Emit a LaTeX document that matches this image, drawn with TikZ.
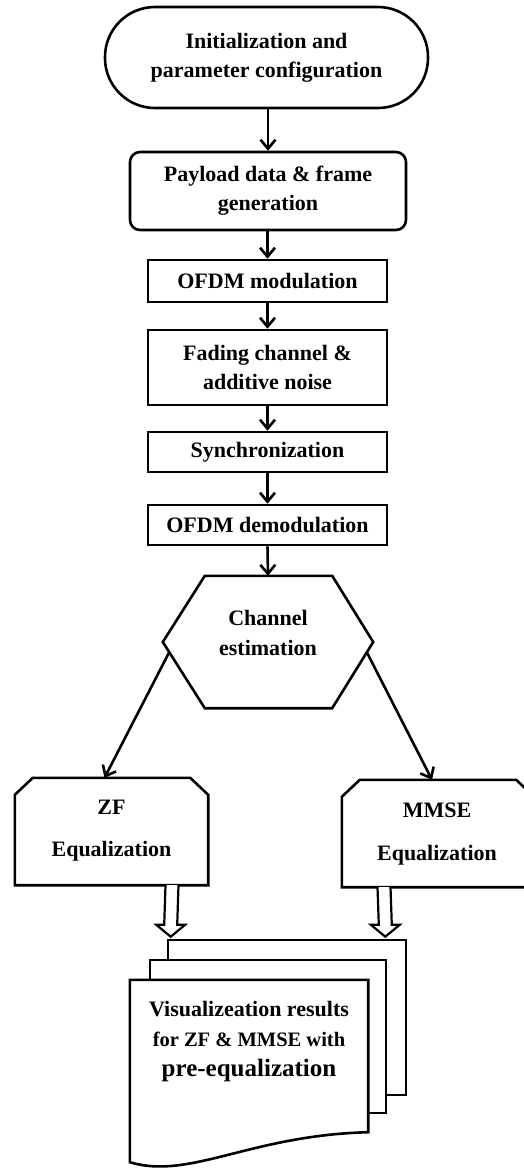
\documentclass[tikz,border=0pt]{standalone}
\usepackage{fontspec}
\setmainfont{Liberation Serif}
\usetikzlibrary{arrows.meta,calc}
\newcommand\hollowdown[2]{%
  \draw[hollow] ($(#1)+(-6.5,0)$) -- ($(#2)+(-6.5,-12)$) -- ($(#2)+(-14.5,-12)$) -- (#2)
    -- ($(#2)+(14.5,-12)$) -- ($(#2)+(6.5,-12)$) -- ($(#1)+(6.5,0)$);}
\begin{document}
\begin{tikzpicture}[x=1pt,y=-1pt,
  txt/.style={align=center, font=\fontsize{22}{29}\selectfont\bfseries, inner sep=0pt},
  box/.style={txt, draw, line width=2.6pt},
  shapeline/.style={line width=2.6pt, line join=miter, fill=white},
  flow/.style={line width=2.6pt, -{Straight Barb[length=9pt,width=15pt]}},
  hollow/.style={line width=2.2pt, line join=miter, fill=white},
]
\useasboundingbox (0,0) rectangle (523,1168);

% process chain
\node[box, rounded corners=50pt, minimum width=323pt, minimum height=101pt] (init) at (266.5,57.5) {Initialization and\\parameter configuration};
\node[box, rounded corners=10pt, minimum width=276pt, minimum height=78pt] (pay) at (268,191) {Payload data \& frame\\generation};
\node[box, minimum width=239pt, minimum height=42pt] (mod) at (267.5,281) {OFDM modulation};
\node[box, minimum width=239pt, minimum height=75pt] (fad) at (267.5,367.5) {Fading channel \&\\additive noise};
\node[box, minimum width=239pt, minimum height=40pt] (syn) at (267.5,452) {Synchronization};
\node[box, minimum width=239pt, minimum height=40pt] (dem) at (267.5,525) {OFDM demodulation};

% channel estimation hexagon
\node[minimum width=210pt, minimum height=132pt, inner sep=0pt] (ce) at (268,642) {};
\draw[shapeline] ($(ce.north west)+(42,0)$) -- ($(ce.north east)+(-41,0)$) -- (ce.east)
  -- ($(ce.south east)+(-41,0)$) -- ($(ce.south west)+(42,0)$) -- (ce.west) -- cycle;
\node[txt, font=\fontsize{22}{30}\selectfont\bfseries] (cet) at (268,633) {Channel\\estimation};

% equalization boxes (loop limit shapes)
\node[minimum width=193pt, minimum height=107pt, inner sep=0pt] (zf) at (111.5,831.5) {};
\draw[shapeline] ($(zf.north west)+(18,0)$) -- ($(zf.north east)+(-18,0)$) -- ($(zf.north east)+(0,17)$)
  -- (zf.south east) -- (zf.south west) -- ($(zf.north west)+(0,17)$) -- cycle;
\node[txt, font=\fontsize{22}{42}\selectfont\bfseries] (zft) at (111.5,831) {ZF\\Equalization};

\node[minimum width=192pt, minimum height=107pt, inner sep=0pt] (mm) at (438,833.5) {};
\draw[shapeline] ($(mm.north west)+(18,0)$) -- ($(mm.north east)+(-18,0)$) -- ($(mm.north east)+(0,17)$)
  -- (mm.south east) -- (mm.south west) -- ($(mm.north west)+(0,17)$) -- cycle;
\node[txt, font=\fontsize{22}{43}\selectfont\bfseries] (mmt) at (437,834) {MMSE\\Equalization};

% multi-document
\node[draw, fill=white, line width=2.6pt, minimum width=238pt, minimum height=155pt, inner sep=0pt] (doc3) at (287,1017.5) {};
\node[draw, fill=white, line width=2.6pt, minimum width=236pt, minimum height=153pt, inner sep=0pt] (doc2) at (268,1036.5) {};
\node[minimum width=238pt, minimum height=182pt, inner sep=0pt] (doc) at (249,1071) {};
\draw[shapeline] (doc.north west) -- (doc.north east) -- ($(doc.south east)+(0,-30)$)
  .. controls ($(doc.south west)+(120,-27)$) and ($(doc.south west)+(60,18)$) .. (doc.south west) -- cycle;
\node[txt, font=\fontsize{22}{30}\selectfont\bfseries] (vis) at (249,1042) {Visualizeation results\\
  {\fontsize{20.5}{30}\selectfont for ZF \& MMSE with}\\
  {\fontsize{25}{30}\selectfont pre-equalization}};

% connectors
\draw[flow] (pay.north |- init.south) -- (pay.north);
\draw[flow] (mod.north |- pay.south) -- (mod.north);
\draw[flow] (mod.south) -- (fad.north);
\draw[flow] (fad.south) -- (syn.north);
\draw[flow] (syn.south) -- (dem.north);
\draw[flow] (dem.south) -- (ce.north);
\coordinate (ceL) at ($(ce.west)+(6,11)$);
\coordinate (ceR) at ($(ce.east)+(-6,11)$);
\draw[flow] (ceL) -- ($(zf.north)+(-7,0)$);
\draw[flow] (ceR) -- ($(mm.north)+(-6,0)$);

\coordinate (zfo) at ($(zf.south)+(60.5,0)$);
\coordinate (zfe) at ($(doc3.north west)+(4,-2)$);
\coordinate (mmo) at ($(mm.south)+(-54,0)$);
\coordinate (mme) at ($(doc3.north east)+(-22,-2)$);
\hollowdown{zfo}{zfe}
\hollowdown{mmo}{mme}
\end{tikzpicture}
\end{document}
